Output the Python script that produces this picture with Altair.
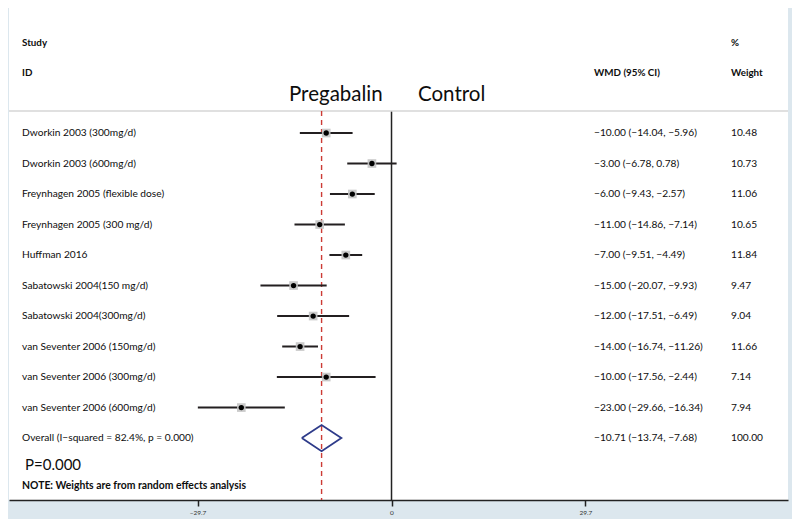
import altair as alt
import pandas as pd

studies = [
    "Dworkin 2003 (300mg/d)",
    "Dworkin 2003 (600mg/d)",
    "Freynhagen 2005 (flexible dose)",
    "Freynhagen 2005 (300 mg/d)",
    "Huffman 2016",
    "Sabatowski 2004(150 mg/d)",
    "Sabatowski 2004(300mg/d)",
    "van Seventer 2006 (150mg/d)",
    "van Seventer 2006 (300mg/d)",
    "van Seventer 2006 (600mg/d)",
]
wmd = [-10.00, -3.00, -6.00, -11.00, -7.00, -15.00, -12.00, -14.00, -10.00, -23.00]
ci_low = [-14.04, -6.78, -9.43, -14.86, -9.51, -20.07, -17.51, -16.74, -17.56, -29.66]
ci_high = [-5.96, 0.78, -2.57, -7.14, -4.49, -9.93, -6.49, -11.26, -2.44, -16.34]
weights = [10.48, 10.73, 11.06, 10.65, 11.84, 9.47, 9.04, 11.66, 7.14, 7.94]

overall_label = "Overall  (I\u2212squared = 82.4%, p = 0.000)"
overall_wmd = -10.71
overall_low = -13.74
overall_high = -7.68
overall_weight = 100.00

axis_ticks = [-29.7, 0, 29.7]


def fmt(v):
    return f"{v:.2f}".replace("-", "\u2212")


rows = list(range(len(studies)))
df = pd.DataFrame({
    "row": rows,
    "study": studies,
    "wmd": wmd,
    "lo": ci_low,
    "hi": ci_high,
    "weight": [f"{w:.2f}" for w in weights],
    "ci": [f"{fmt(m)} ({fmt(l)}, {fmt(h)})" for m, l, h in zip(wmd, ci_low, ci_high)],
})
ov_row = len(studies)
df_ov = pd.DataFrame({
    "row": [ov_row],
    "study": [overall_label],
    "weight": [f"{overall_weight:.2f}"],
    "ci": [f"{fmt(overall_wmd)} ({fmt(overall_low)}, {fmt(overall_high)})"],
})
dh = 0.43
df_dia = pd.DataFrame({
    "x": [overall_low, overall_wmd, overall_high, overall_wmd, overall_low],
    "y": [ov_row, ov_row - dh, ov_row, ov_row + dh, ov_row],
    "o": [0, 1, 2, 3, 4],
})

FONT = "Lato"
TXT = "#0d0d0d"
FS = 10.2
xs = alt.Scale(domain=[-58.58, 60.72], nice=False, zero=False)
ys = alt.Scale(domain=[-4.098, 12.03], reverse=True, nice=False, zero=False)
TOP = -0.72
BOT = 12.03

X = lambda f, **k: alt.X(f, type="quantitative", scale=xs, **k)
Y = lambda f: alt.Y(f, type="quantitative", scale=ys, axis=None)

base = alt.Chart(df)

sep = alt.Chart(pd.DataFrame({"y": [TOP]})).mark_rule(color="#d6d6d6", strokeWidth=1.5).encode(
    x=alt.value(0), x2=alt.value(779), y=Y("y"))

lines = alt.Chart(pd.DataFrame({"x": [0, overall_wmd], "y": [TOP, TOP], "y2": [BOT, BOT], "k": ["zero", "ov"]}))
zero = lines.transform_filter("datum.k == 'zero'").mark_rule(color="#222", strokeWidth=1.5).encode(
    x=X("x", axis=alt.Axis(values=axis_ticks, format=".1~f", title=None, grid=False)), y=Y("y"), y2="y2")
dash = lines.transform_filter("datum.k == 'ov'").mark_rule(color="#cc3b35", strokeWidth=1.4, strokeDash=[5, 4]).encode(
    x=X("x"), y=Y("y"), y2="y2")

ci = base.mark_rule(color="#231f20", strokeWidth=2).encode(x=X("lo"), x2="hi", y=Y("row"))
box = base.mark_square(color="#c4c4c4", opacity=0.9, size=75).encode(x=X("wmd"), y=Y("row"))
pt = base.mark_point(shape="circle", filled=True, color="#000", size=28, opacity=1).encode(x=X("wmd"), y=Y("row"))

dia = alt.Chart(df_dia).mark_line(color="#2e3b8a", strokeWidth=1.8).encode(
    x=X("x"), y=Y("y"), order="o")


def col(src, field, px):
    return alt.Chart(src).mark_text(align="left", baseline="middle", font=FONT, fontSize=FS, color=TXT).encode(
        x=alt.value(px), y=Y("row"), text=field)


txt_all = alt.layer(
    col(df, "study", 13), col(df, "ci", 585), col(df, "weight", 722),
    col(df_ov, "study", 13), col(df_ov, "ci", 585), col(df_ov, "weight", 722),
)

headers = pd.DataFrame({
    "t": ["Study", "ID", "WMD (95% CI)", "%", "Weight"],
    "px": [13, 13, 585, 722, 722],
    "py": [35, 65, 65, 35, 65],
})
hdr = alt.Chart(headers).mark_text(align="left", baseline="middle", font=FONT, fontSize=9.8,
                                   fontWeight="bold", color=TXT).encode(
    x=alt.X("px:Q", scale=None), y=alt.Y("py:Q", scale=None), text="t")

sides = pd.DataFrame({"t": ["Pregabalin", "Control"], "px": [280, 409]})
side = alt.Chart(sides).mark_text(align="left", baseline="middle", font=FONT, fontSize=20.5, color=TXT).encode(
    x=alt.X("px:Q", scale=None), y=alt.value(87), text="t")

notes = pd.DataFrame({"t": ["P=0.000", "NOTE: Weights are from random effects analysis"],
                      "px": [16, 13], "py": [457, 478]})
note1 = alt.Chart(notes.iloc[[0]]).mark_text(align="left", baseline="middle", font=FONT, fontSize=15, color=TXT).encode(
    x=alt.X("px:Q", scale=None), y=alt.Y("py:Q", scale=None), text="t")
note2 = alt.Chart(notes.iloc[[1]]).mark_text(align="left", baseline="middle", font=FONT, fontSize=10.4,
                                             fontWeight="bold", color=TXT).encode(
    x=alt.X("px:Q", scale=None), y=alt.Y("py:Q", scale=None), text="t")

chart = alt.layer(zero, sep, dash, ci, box, pt, dia, txt_all, hdr, side, note1, note2).properties(
    width=779, height=492,
    autosize=alt.AutoSizeParams(type="none"),
    padding={"left": 1, "top": 0, "right": 4, "bottom": 19},
    background="#dce7ee",
).configure_view(fill="white", stroke=None).configure_axis(
    domainColor="#222", domainWidth=1.5, tickColor="#222", tickWidth=1.5, tickSize=6,
    labelFontSize=6.5, labelColor="#333", labelFont=FONT, labelPadding=3,
)

chart.save("out.html", embed_options={"renderer": "svg", "actions": False})
